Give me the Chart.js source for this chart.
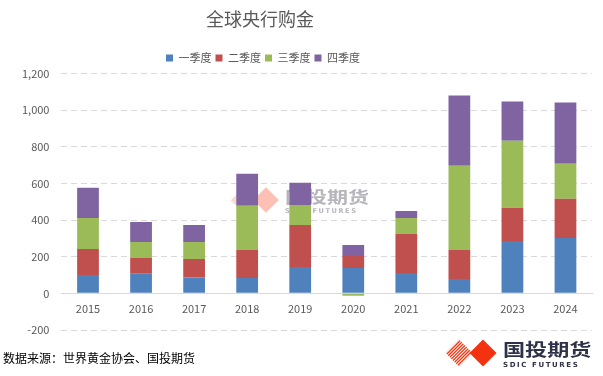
<!DOCTYPE html>
<html>
<head>
<meta charset="utf-8">
<script src="https://cdn.jsdelivr.net/npm/chart.js@4"></script>
<style>
  html, body { margin: 0; padding: 0; background: #fff; }
  #wrap { width: 603px; height: 376px; position: relative; }
</style>
</head>
<body>
<div id="wrap"><canvas id="js-chart-gold"></canvas></div>
<script>
// Data (tonnes)
const years = ['2015', '2016', '2017', '2018', '2019', '2020', '2021', '2022', '2023', '2024'];
const seriesNames = ['一季度', '二季度', '三季度', '四季度'];
const q1 = [100, 107, 87, 84, 144, 138, 111, 78, 286, 303];
const q2 = [142, 86, 101, 153, 230, 66, 214, 159, 181, 213];
const q3 = [170, 88, 93, 241, 109, -13, 87, 460, 367, 192];
const q4 = [165, 109, 93, 175, 121, 60, 38, 383, 213, 334];
const yTicks = [-200, 0, 200, 400, 600, 800, 1000, 1200];

const seriesColors = ['#4f81bd', '#c0504d', '#9bbb59', '#8064a2'];
const CJK = "'Noto Sans CJK SC', 'Noto Sans', sans-serif";

Chart.defaults.font.family = CJK;
Chart.defaults.color = '#595959';

// logo: striped diamond + solid diamond + name
function drawLogo(ctx, cx, cy, s, stripeColor, textColor) {
  ctx.save();
  // striped diamond on the left
  const sx = cx - 24 * s;
  ctx.save();
  ctx.beginPath();
  ctx.moveTo(sx, cy - 13.5 * s);
  ctx.lineTo(sx + 13.5 * s, cy);
  ctx.lineTo(sx, cy + 13.5 * s);
  ctx.lineTo(sx - 13.5 * s, cy);
  ctx.closePath();
  ctx.clip();
  ctx.strokeStyle = stripeColor;
  ctx.lineWidth = 1.3 * s;
  for (let k = -40; k <= 40; k += 3.2) {
    ctx.beginPath();
    ctx.moveTo(sx + k * s - 20 * s, cy + 20 * s);
    ctx.lineTo(sx + k * s + 20 * s, cy - 20 * s);
    ctx.stroke();
  }
  ctx.restore();
  // solid diamond
  ctx.fillStyle = stripeColor;
  ctx.beginPath();
  ctx.moveTo(cx, cy - 13.5 * s);
  ctx.lineTo(cx + 13.5 * s, cy);
  ctx.lineTo(cx, cy + 13.5 * s);
  ctx.lineTo(cx - 13.5 * s, cy);
  ctx.closePath();
  ctx.fill();
  // name
  ctx.fillStyle = textColor;
  ctx.textBaseline = 'middle';
  ctx.textAlign = 'left';
  ctx.save();
  ctx.translate(cx + 20 * s, cy - 3 * s);
  ctx.scale(1.3, 1);
  ctx.font = 'bold ' + (17 * s) + 'px ' + CJK;
  ctx.fillText('国投期货', 0, 0);
  ctx.restore();
  ctx.font = 'bold ' + (7 * s) + 'px ' + "'DejaVu Sans', sans-serif";
  ctx.letterSpacing = (1.6 * s) + 'px';
  ctx.fillText('SDIC FUTURES', cx + 20 * s, cy + 12 * s);
  ctx.restore();
}

const logoPlugin = {
  id: 'logoPlugin',
  afterLayout(chart) {
    // title and legend sit left of the canvas centre in the reference
    const t = chart.titleBlock, l = chart.legend;
    if (t) { t.left -= 41; t.right -= 41; }
    if (l) { l.left -= 38; l.right -= 38; }
  },
  beforeDatasetsDraw(chart) {
    drawLogo(chart.ctx, 266, 200, 0.95, 'rgba(250,160,140,0.65)', 'rgba(150,150,160,0.7)');
  },
  afterDraw(chart) {
    const ctx = chart.ctx;
    ctx.save();
    ctx.fillStyle = '#000';
    ctx.font = '12px ' + CJK;
    ctx.textBaseline = 'middle';
    ctx.fillText('数据来源：世界黄金协会、国投期货', 3, 358);
    ctx.restore();
    drawLogo(ctx, 483, 353, 1, '#f5320f', '#2e3148');
  }
};

const chartData = {
  labels: years,
  datasets: [q1, q2, q3, q4].map((vals, i) => ({
    label: seriesNames[i],
    data: vals,
    backgroundColor: seriesColors[i],
    borderWidth: 0,
    categoryPercentage: 1,
    barPercentage: 0.41
  }))
};

const chartOptions = {
  responsive: true,
  maintainAspectRatio: false,
  animation: false,
  layout: { padding: { left: 10, right: 11, top: 0, bottom: 46 } },
  scales: {
    x: {
      stacked: true,
      position: { y: 0 },
      grid: { display: false },
      border: { display: true, color: '#d9d9d9', width: 1 },
      ticks: { padding: 1, font: { size: 11 }, color: '#595959' }
    },
    y: {
      stacked: true,
      min: -200,
      max: 1200,
      afterBuildTicks(scale) {
        scale.ticks = yTicks.map(v => ({ value: v }));
      },
      grid: { color: '#d9d9d9', drawTicks: false },
      border: { display: false, dash: [6, 4] },
      ticks: {
        padding: 12,
        font: { size: 11 },
        color: '#595959',
        callback: v => v.toLocaleString('en-US')
      }
    }
  },
  plugins: {
    title: {
      display: true,
      text: '全球央行购金',
      color: '#595959',
      font: { size: 18, weight: 'normal' },
      padding: { top: 8, bottom: 19 }
    },
    legend: {
      position: 'top',
      labels: {
        boxWidth: 7,
        boxHeight: 7,
        padding: 4,
        color: '#595959',
        font: { size: 11 }
      }
    },
    tooltip: { enabled: false }
  }
};

new Chart(document.getElementById('js-chart-gold'), {
  type: 'bar',
  data: chartData,
  options: chartOptions,
  plugins: [logoPlugin]
});
</script>
</body>
</html>
